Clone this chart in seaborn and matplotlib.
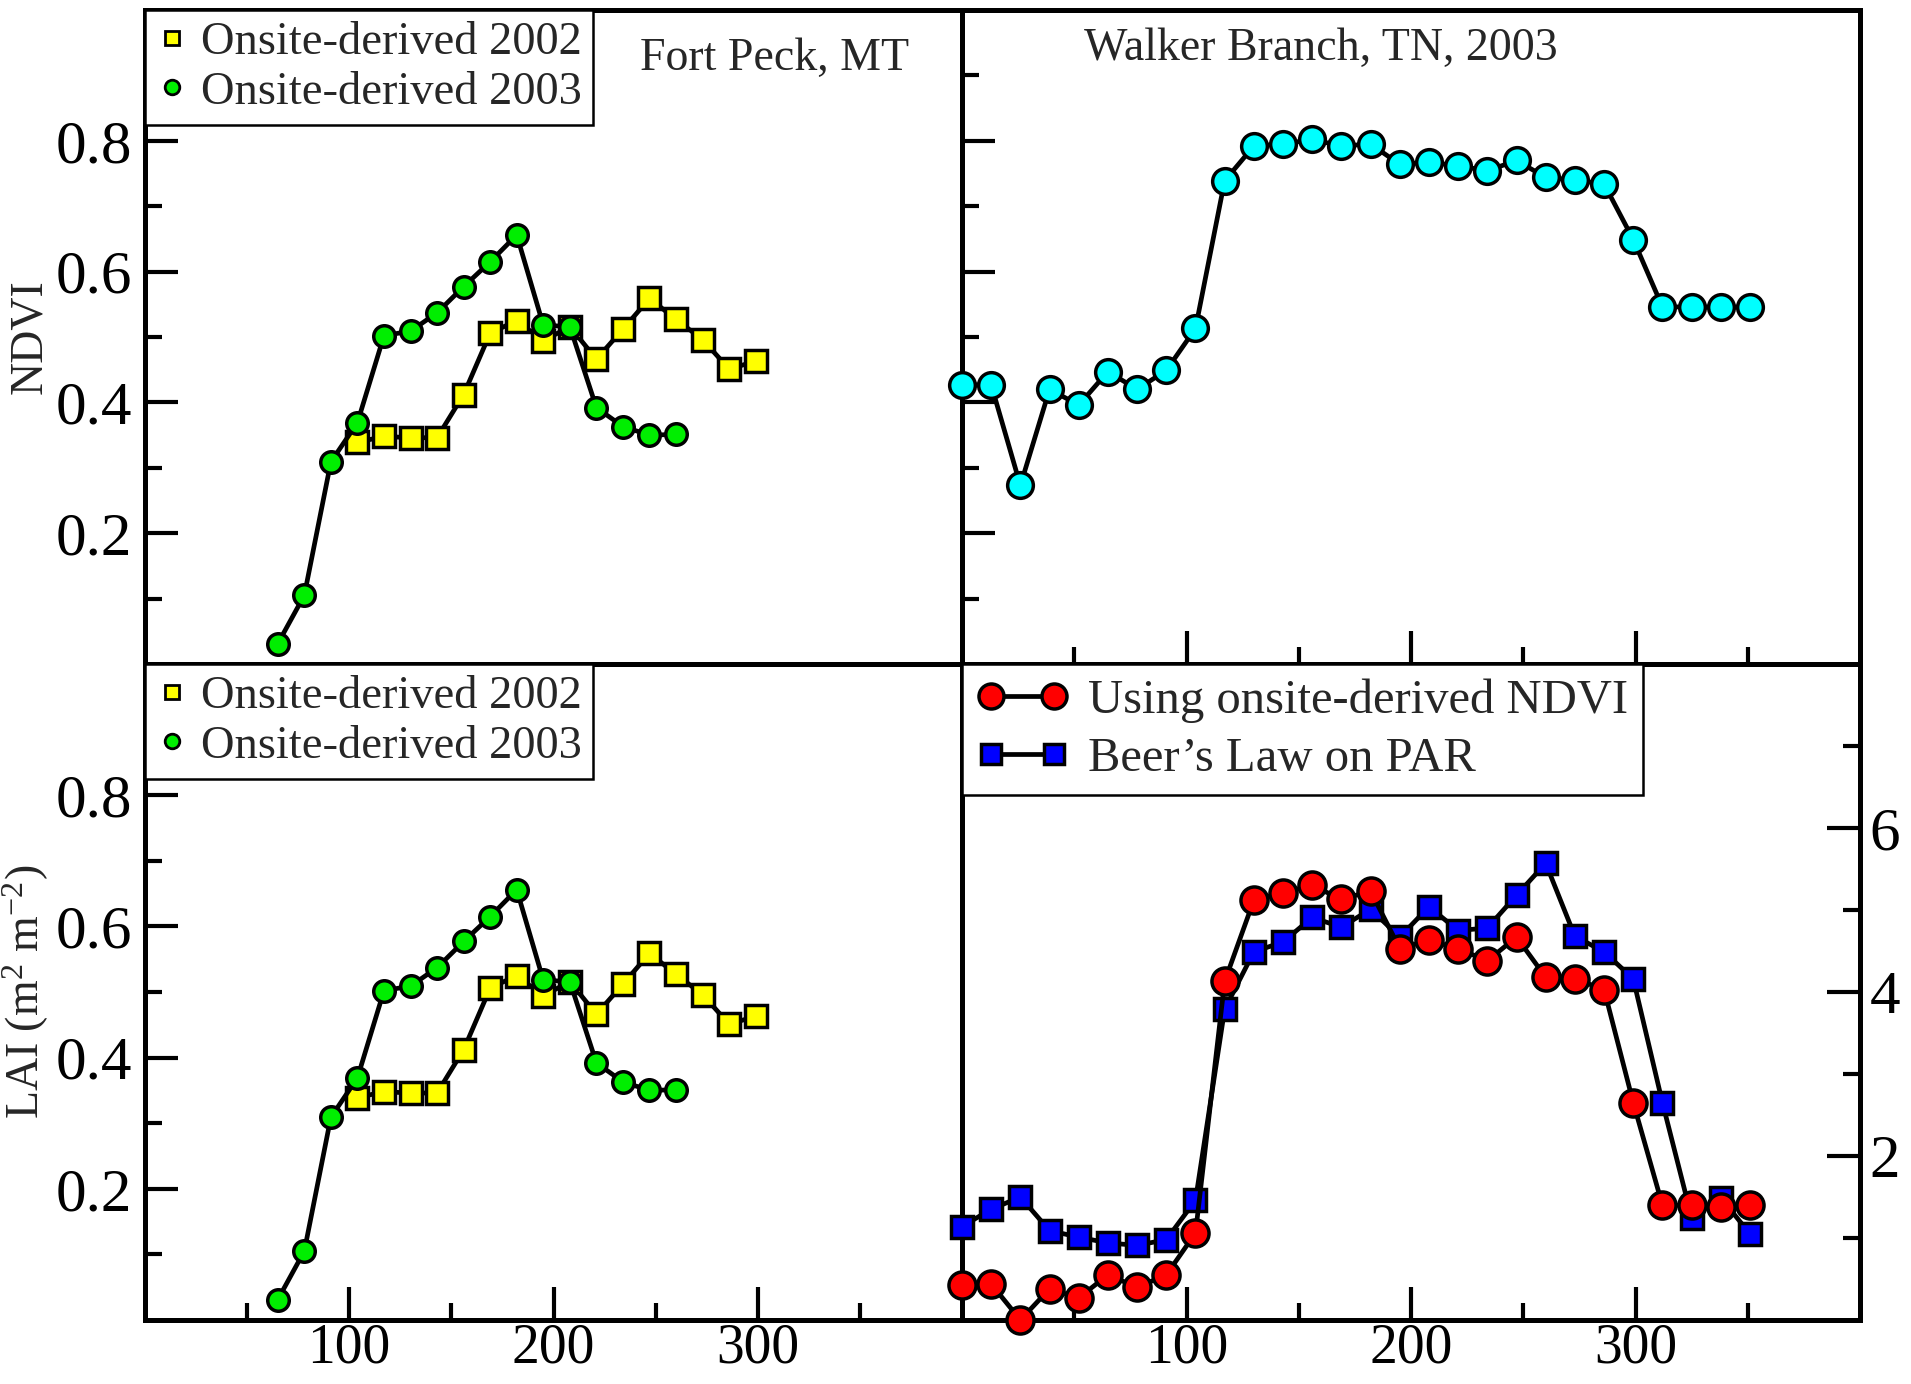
import numpy as np
import pandas as pd
import matplotlib
matplotlib.use("Agg")
import matplotlib.pyplot as plt
import seaborn as sns
from matplotlib.lines import Line2D
from matplotlib.ticker import FixedLocator, NullFormatter

# ---------------- data ----------------
days_fp_2002 = [104, 117, 130, 143, 156, 169, 182, 195, 208, 221, 234, 247, 260, 273, 286, 299]
ndvi_fp_2002 = [0.339, 0.348, 0.346, 0.346, 0.412, 0.506, 0.525, 0.494, 0.516, 0.466,
                0.512, 0.559, 0.527, 0.496, 0.451, 0.463]
days_fp_2003 = [65, 78, 91, 104, 117, 130, 143, 156, 169, 182, 195, 208, 221, 234, 247, 260]
ndvi_fp_2003 = [0.031, 0.105, 0.309, 0.369, 0.502, 0.509, 0.537, 0.577, 0.615, 0.656,
                0.518, 0.516, 0.392, 0.363, 0.350, 0.351]

days_wb = [0, 13, 26, 39, 52, 65, 78, 91, 104, 117, 130, 143, 156, 169, 182, 195, 208,
           221, 234, 247, 260, 273, 286, 299, 312, 325, 338, 351]
ndvi_wb = [0.427, 0.427, 0.273, 0.420, 0.396, 0.447, 0.420, 0.449, 0.513, 0.739, 0.792,
           0.795, 0.802, 0.792, 0.795, 0.764, 0.767, 0.762, 0.754, 0.770, 0.744, 0.740,
           0.734, 0.649, 0.546, 0.546, 0.546, 0.546]
lai_ndvi_wb = [0.43, 0.44, 0.0, 0.38, 0.27, 0.55, 0.40, 0.55, 1.06, 4.13, 5.12, 5.21, 5.30,
               5.13, 5.23, 4.53, 4.63, 4.53, 4.38, 4.67, 4.18, 4.16, 4.03, 2.65, 1.40, 1.40,
               1.38, 1.40]
lai_par_wb = [1.14, 1.35, 1.50, 1.09, 1.01, 0.94, 0.91, 0.98, 1.46, 3.79, 4.49, 4.61, 4.91,
              4.79, 5.01, 4.67, 5.04, 4.75, 4.78, 5.18, 5.57, 4.68, 4.49, 4.16, 2.65, 1.25,
              1.49, 1.05]

label_2002 = "Onsite-derived 2002"
label_2003 = "Onsite-derived 2003"
label_red = "Using onsite-derived NDVI"
label_blue = "Beer\u2019s Law on PAR"
title_fp = "Fort Peck, MT"
title_wb = "Walker Branch, TN, 2003"
ylabel_top = "NDVI"
ylabel_bot = "LAI (m$^{2}$ m$^{-2}$)"
xticks_major = [100, 200, 300]
xticks_minor = [50, 150, 250, 350]
yticks_ndvi = [0.2, 0.4, 0.6, 0.8]
yticks_ndvi_minor = [0.1, 0.3, 0.5, 0.7, 0.9]
yticks_lai = [2, 4, 6]
yticks_lai_minor = [1, 3, 5, 7]

# ---------------- style ----------------
sns.set_theme(style="white")
plt.rcParams['font.family'] = ['Liberation Serif', 'DejaVu Serif']
plt.rcParams['mathtext.fontset'] = 'custom'
plt.rcParams['mathtext.rm'] = 'Liberation Serif'
plt.rcParams['mathtext.it'] = 'Liberation Serif:italic'
plt.rcParams['mathtext.bf'] = 'Liberation Serif:bold'

W, H = 1911, 1384
fig = plt.figure(figsize=(W / 100, H / 100), dpi=100)
fig.patch.set_facecolor("white")

def box(x0, x1, y0, y1):
    return [x0 / W, 1 - y1 / H, (x1 - x0) / W, (y1 - y0) / H]

XL0, XM, XR1 = 145, 962, 1860
YT0, YM, YB1 = 10, 664, 1320
ax_tl = fig.add_axes(box(XL0, XM, YT0, YM))
ax_tr = fig.add_axes(box(XM, XR1, YT0, YM))
ax_bl = fig.add_axes(box(XL0, XM, YM, YB1))
ax_br = fig.add_axes(box(XM, XR1, YM, YB1))

LW = 3.4
MEW = 2.5
TICK_FS = 44
XTICK_FS = 40
TXT_FS = 33.5

def series(ax, x, y, marker, face, ms, clip=True, z=3):
    df = pd.DataFrame({"x": x, "y": y})
    sns.lineplot(data=df, x="x", y="y", ax=ax, sort=False, estimator=None,
                 color="black", linewidth=LW, marker=marker, markersize=ms,
                 markerfacecolor=face, markeredgecolor="black",
                 markeredgewidth=MEW, clip_on=clip, zorder=z, legend=False)

GREEN = "#00ee00"
YELLOW = "#ffff00"
CYAN = "#00ffff"
RED = "#ff0000"
BLUE = "#0000ff"

for ax in (ax_tl, ax_bl):
    series(ax, days_fp_2002, ndvi_fp_2002, "s", YELLOW, 15.5)
    series(ax, days_fp_2003, ndvi_fp_2003, "o", GREEN, 15.5, z=4)

series(ax_tr, days_wb, ndvi_wb, "o", CYAN, 18.5, clip=False)
series(ax_br, days_wb, lai_par_wb, "s", BLUE, 15.5, clip=False, z=3)
series(ax_br, days_wb, lai_ndvi_wb, "o", RED, 19.5, clip=False, z=4)

for ax in (ax_tl, ax_tr, ax_bl, ax_br):
    ax.set_xlim(0, 400)
    ax.set_xlabel("")
    ax.set_ylabel("")
    ax.set_facecolor("white")
    for s in ax.spines.values():
        s.set_visible(True)
        s.set_color("black")
        s.set_linewidth(3.6)
    ax.tick_params(which="both", direction="in", color="black", width=3.0,
                   top=False, right=False, left=False, bottom=False,
                   labelleft=False, labelbottom=False, labelsize=TICK_FS, colors="black")
    ax.tick_params(which="major", length=24)
    ax.tick_params(which="minor", length=12.5)

for ax in (ax_tl, ax_tr, ax_bl):
    ax.set_ylim(0, 1.0)
    ax.yaxis.set_major_locator(FixedLocator(yticks_ndvi))
    ax.yaxis.set_minor_locator(FixedLocator(yticks_ndvi_minor))
    ax.tick_params(axis="y", which="both", left=True)

ax_tl.tick_params(axis="y", labelleft=True, pad=9)
ax_bl.tick_params(axis="y", labelleft=True, pad=9)
ax_tl.set_yticklabels([f"{v:.1f}" for v in yticks_ndvi])
ax_bl.set_yticklabels([f"{v:.1f}" for v in yticks_ndvi])

for ax in (ax_tr, ax_bl, ax_br):
    ax.xaxis.set_major_locator(FixedLocator(xticks_major))
    ax.xaxis.set_minor_locator(FixedLocator(xticks_minor))
    ax.tick_params(axis="x", which="both", bottom=True)
ax_tl.set_xticks([])
for ax in (ax_bl, ax_br):
    ax.tick_params(axis="x", labelbottom=True, pad=1.5, labelsize=XTICK_FS)
    ax.set_xticklabels([str(v) for v in xticks_major])

ax_br.set_ylim(0, 8)
ax_br.yaxis.set_major_locator(FixedLocator(yticks_lai))
ax_br.yaxis.set_minor_locator(FixedLocator(yticks_lai_minor))
ax_br.yaxis.set_minor_formatter(NullFormatter())
ax_br.tick_params(axis="y", which="both", right=True, left=False,
                  labelright=True, labelleft=False, pad=7)
ax_br.set_yticklabels([str(v) for v in yticks_lai])

# axis labels
ax_tl.set_ylabel(ylabel_top, fontsize=33)
ax_tl.yaxis.set_label_coords(-0.115, 0.5)
ax_bl.set_ylabel(ylabel_bot, fontsize=33)
ax_bl.yaxis.set_label_coords(-0.115, 0.5)

# titles inside panels
ax_tl.text(0.77, 0.925, title_fp, transform=ax_tl.transAxes, ha="center", va="center",
           fontsize=33)
ax_tr.text(0.40, 0.94, title_wb, transform=ax_tr.transAxes, ha="center", va="center",
           fontsize=33)

# legends
def small_handles():
    return [Line2D([], [], linestyle="none", marker="s", markersize=10.5,
                   markerfacecolor=YELLOW, markeredgecolor="black", markeredgewidth=2.0),
            Line2D([], [], linestyle="none", marker="o", markersize=10.5,
                   markerfacecolor=GREEN, markeredgecolor="black", markeredgewidth=2.0)]

for ax in (ax_tl, ax_bl):
    leg = ax.legend(small_handles(), [label_2002, label_2003], loc="upper left",
                    bbox_to_anchor=(0, 1), borderaxespad=0, fontsize=TXT_FS,
                    frameon=True, fancybox=False, framealpha=1, edgecolor="black",
                    handlelength=0.65, handletextpad=0.3, borderpad=0.25,
                    labelspacing=0.15, numpoints=1)
    leg.get_frame().set_linewidth(1.8)

h_br = [Line2D([], [], color="black", linewidth=LW, marker="o", markersize=18,
               markerfacecolor=RED, markeredgecolor="black", markeredgewidth=MEW),
        Line2D([], [], color="black", linewidth=LW, marker="s", markersize=14,
               markerfacecolor=BLUE, markeredgecolor="black", markeredgewidth=MEW)]
leg = ax_br.legend(h_br, [label_red, label_blue], loc="upper left", bbox_to_anchor=(0, 1),
                   borderaxespad=0, fontsize=35, frameon=True, fancybox=False,
                   framealpha=1, edgecolor="black", handlelength=1.9, handletextpad=0.4,
                   borderpad=0.3, labelspacing=0.28, numpoints=2)
leg.get_frame().set_linewidth(1.8)

fig.savefig("out.png", dpi=100, facecolor="white")
